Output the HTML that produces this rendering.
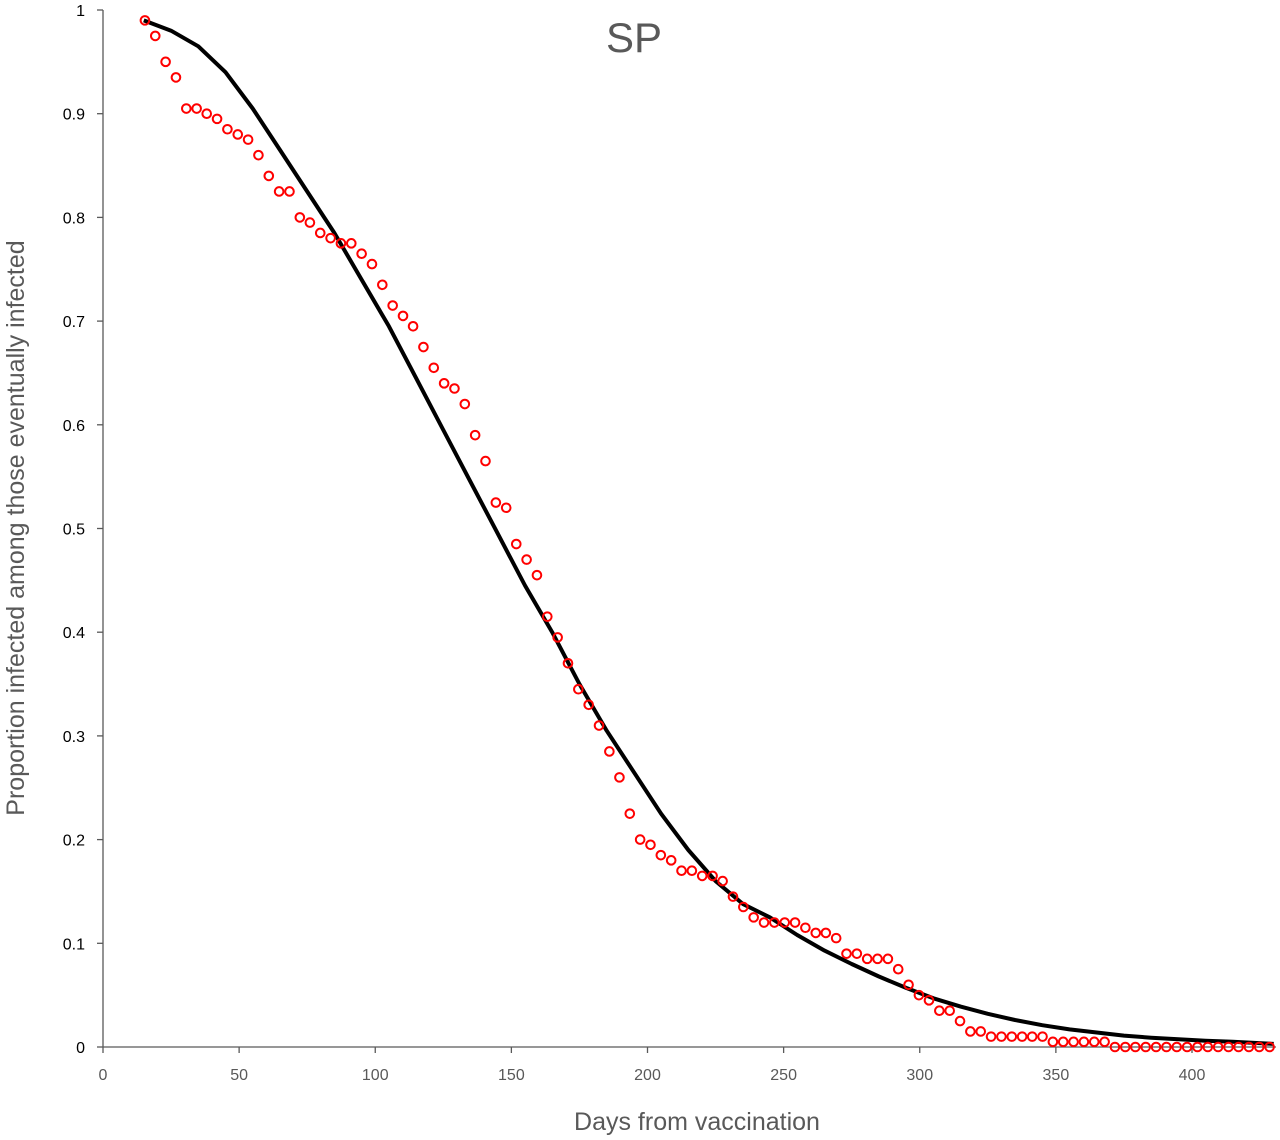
<!DOCTYPE html>
<html><head><meta charset="utf-8"><style>
body{margin:0;background:#fff;}
svg{display:block;font-family:"Liberation Sans",sans-serif;}
</style></head><body>
<svg id="chart" width="1280" height="1140" viewBox="0 0 1280 1140">
<text x="634" y="52" text-anchor="middle" font-size="42" fill="#595959">SP</text>
<text transform="translate(24,528) rotate(-90)" text-anchor="middle" font-size="25" fill="#595959">Proportion infected among those eventually infected</text>
<text x="697" y="1130" text-anchor="middle" font-size="25" fill="#595959">Days from vaccination</text>
<g id="axes"></g><g id="curve"></g><g id="pts"></g>
</svg>
<script>
const xTicks=[0,50,100,150,200,250,300,350,400];
const yTicks=[0,0.1,0.2,0.3,0.4,0.5,0.6,0.7,0.8,0.9,1];
const yTickLabels=["0","0.1","0.2","0.3","0.4","0.5","0.6","0.7","0.8","0.9","1"];
const obsDays=[15.4,19.2,23.0,26.8,30.6,34.4,38.1,41.9,45.7,49.5,53.3,57.1,60.9,64.7,68.5,72.3,76.0,79.8,83.6,87.4,91.2,95.0,98.8,102.6,106.4,110.2,113.9,117.7,121.5,125.3,129.1,132.9,136.7,140.5,144.3,148.1,151.8,155.6,159.4,163.2,167.0,170.8,174.6,178.4,182.2,186.0,189.7,193.5,197.3,201.1,204.9,208.7,212.5,216.3,220.1,223.9,227.6,231.4,235.2,239.0,242.8,246.6,250.4,254.2,258.0,261.8,265.5,269.3,273.1,276.9,280.7,284.5,288.3,292.1,295.9,299.7,303.4,307.2,311.0,314.8,318.6,322.4,326.2,330.0,333.8,337.6,341.3,345.1,348.9,352.7,356.5,360.3,364.1,367.9,371.7,375.5,379.2,383.0,386.8,390.6,394.4,398.2,402.0,405.8,409.6,413.4,417.1,420.9,424.7,428.5];
const obsValues=[0.99,0.975,0.95,0.935,0.905,0.905,0.9,0.895,0.885,0.88,0.875,0.86,0.84,0.825,0.825,0.8,0.795,0.785,0.78,0.775,0.775,0.765,0.755,0.735,0.715,0.705,0.695,0.675,0.655,0.64,0.635,0.62,0.59,0.565,0.525,0.52,0.485,0.47,0.455,0.415,0.395,0.37,0.345,0.33,0.31,0.285,0.26,0.225,0.2,0.195,0.185,0.18,0.17,0.17,0.165,0.165,0.16,0.145,0.135,0.125,0.12,0.12,0.12,0.12,0.115,0.11,0.11,0.105,0.09,0.09,0.085,0.085,0.085,0.075,0.06,0.05,0.045,0.035,0.035,0.025,0.015,0.015,0.01,0.01,0.01,0.01,0.01,0.01,0.005,0.005,0.005,0.005,0.005,0.005,0,0,0,0,0,0,0,0,0,0,0,0,0,0,0,0];
const fitDays=[15,25,35,45,55,65,75,85,95,105,115,125,135,145,155,165,175,185,195,205,215,225,235,245,255,265,275,285,295,305,315,325,335,345,355,365,375,385,395,405,415,430];
const fitValues=[0.99,0.98,0.965,0.94,0.905,0.865,0.825,0.785,0.74,0.695,0.645,0.595,0.545,0.495,0.445,0.40,0.35,0.305,0.265,0.225,0.19,0.16,0.138,0.125,0.108,0.093,0.08,0.068,0.057,0.047,0.039,0.032,0.026,0.021,0.017,0.014,0.011,0.009,0.0075,0.006,0.005,0.003];
const X0=103,X1=1192,Y0=1047,Y1=10;
const sx=d=>X0+(X1-X0)*d/400;
const sy=v=>Y0-(Y0-Y1)*v;
const NS="http://www.w3.org/2000/svg";
function mk(t,a,p){const e=document.createElementNS(NS,t);for(const k in a)e.setAttribute(k,a[k]);p.appendChild(e);return e;}
const ax=document.getElementById('axes');
const yl=mk('line',{x1:X0,y1:Y1,x2:X0,y2:Y0,stroke:'#595959','stroke-width':1.3},ax);


const xl=mk('line',{x1:X0,y1:Y0,x2:1276,y2:Y0,stroke:'#595959','stroke-width':1.3},ax);


yTicks.forEach((v,i)=>{
 const t=mk('line',{x1:X0-6,y1:sy(v),x2:X0,y2:sy(v),stroke:'#595959','stroke-width':1.3},ax);
 
 
 const l=mk('text',{x:X0-18,y:sy(v)+6,'text-anchor':'end','font-size':16,fill:'#000'},ax);
 l.textContent=yTickLabels[i];
 
 
});
xTicks.forEach(d=>{
 const t=mk('line',{x1:sx(d),y1:Y0,x2:sx(d),y2:Y0+6,stroke:'#595959','stroke-width':1.3},ax);
 
 
 const l=mk('text',{x:sx(d),y:Y0+33,'text-anchor':'middle','font-size':16,fill:'#595959'},ax);
 l.textContent=String(d);
 
 
});
let dstr='';
fitDays.forEach((d,i)=>{dstr+=(i?'L':'M')+sx(d).toFixed(1)+','+sy(fitValues[i]).toFixed(1);});
const cp=mk('path',{d:dstr,fill:'none',stroke:'#000','stroke-width':4,'stroke-linejoin':'round'},document.getElementById('curve'));


const pg=document.getElementById('pts');
obsDays.forEach((d,i)=>{
 const c=mk('circle',{cx:sx(d),cy:sy(obsValues[i]),r:4.3,fill:'none',stroke:'#ff0000','stroke-width':2},pg);
 
 
});
</script>
</body></html>
